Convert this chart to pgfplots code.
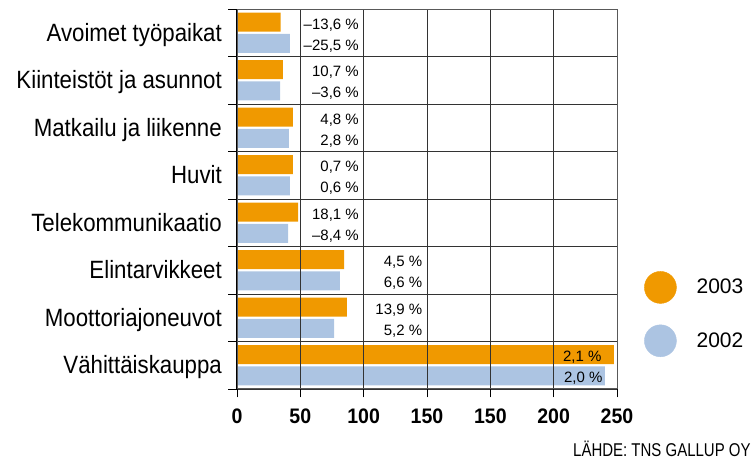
\documentclass[border=0pt]{standalone}
\usepackage{pgfplots}
\pgfplotsset{compat=1.18}
\usepackage{fontspec}
\setmainfont{Liberation Sans}[FakeStretch=0.93]
\newfontfamily\catfont{Liberation Sans}[FakeStretch=0.89]
\newfontfamily\valfont{Liberation Sans}
\newfontfamily\srcfont{Liberation Sans}[FakeStretch=0.81]
\newfontfamily\legfont{Liberation Sans}
\definecolor{orng}{RGB}{240,153,0}
\definecolor{blu}{RGB}{172,196,226}
\begin{document}
\begin{tikzpicture}[x=1pt,y=1pt]
\useasboundingbox (0,0) rectangle (752,460);
\begin{axis}[
  at={(237pt,71pt)}, anchor=south west,
  scale only axis, width=380pt, height=380pt,
  xmin=0, xmax=300, ymin=-0.5, ymax=7.5,
  clip=false,
  xtick={0,50,...,300},
  xticklabels={0,50,100,150,150,200,250},
  ytick={-0.5,0.5,...,7.5},
  yticklabels={},
  extra y ticks={0,1,2,3,4,5,6,7},
  extra y tick labels={Vähittäiskauppa,Moottoriajoneuvot,Elintarvikkeet,Telekommunikaatio,Huvit,Matkailu ja liikenne,Kiinteistöt ja asunnot,Avoimet työpaikat},
  extra y tick style={grid=none, tick style={draw=none},
    yticklabel style={font=\catfont\fontsize{25}{29}\selectfont, anchor=base east, inner sep=0pt, xshift=-6.5pt, yshift=-8.7pt}},
  xmajorgrids, ymajorgrids,
  grid style={black!80, line width=0.9pt},
  tick align=outside, xtick pos=left, ytick pos=left,
  major tick length=8.5pt,
  tick style={black, line width=0.9pt},
  axis line style={black!65, line width=1pt},
  axis on top,
  xticklabel style={font=\fontsize{21}{24}\selectfont\bfseries, anchor=base, inner sep=0pt, yshift=-25.8pt},
  /pgf/number format/assume math mode=true,
  legend style={at={(axis description cs:1.0711,0.3105)}, anchor=north west,
    draw=none, fill=none, inner sep=0pt, row sep=21pt, column sep=20pt,
    font=\legfont\fontsize{21}{24}\selectfont, nodes={inner sep=0pt}},
  legend cell align=left,
]
\addplot[xbar, bar width=19pt, bar shift=10.7pt, fill=orng, draw=none, forget plot]
  coordinates {(297.6,0) (86.8,1) (84.5,2) (48.2,3) (44.2,4) (44.2,5) (36.3,6) (34.5,7)};
\addplot[xbar, bar width=19pt, bar shift=-10.7pt, fill=blu, draw=none, forget plot]
  coordinates {(290.5,0) (76.6,1) (81.3,2) (40.3,3) (41.8,4) (41.0,5) (34.0,6) (41.8,7)};
\addlegendimage{legend image code/.code={\fill[orng] (16pt,0pt) circle (16pt);}}
\addlegendentry{2003}
\addlegendimage{legend image code/.code={\fill[blu] (16pt,0pt) circle (16pt);}}
\addlegendentry{2002}
\draw[black, line width=1.5pt] (rel axis cs:0,0) -- (rel axis cs:0,1);
\begin{scope}[every node/.style={anchor=base east, inner sep=0pt, font=\valfont\fontsize{15}{18}\selectfont}]
\node[yshift=3.45pt]  at (axis cs:96.3,7) {–13,6 \%};
\node[yshift=-17.5pt] at (axis cs:96.3,7) {–25,5 \%};
\node[yshift=3.45pt]  at (axis cs:96.3,6) {10,7 \%};
\node[yshift=-17.5pt] at (axis cs:96.3,6) {–3,6 \%};
\node[yshift=3.45pt]  at (axis cs:96.3,5) {4,8 \%};
\node[yshift=-17.5pt] at (axis cs:96.3,5) {2,8 \%};
\node[yshift=3.45pt]  at (axis cs:96.3,4) {0,7 \%};
\node[yshift=-17.5pt] at (axis cs:96.3,4) {0,6 \%};
\node[yshift=3.45pt]  at (axis cs:96.3,3) {18,1 \%};
\node[yshift=-17.5pt] at (axis cs:96.3,3) {–8,4 \%};
\node[yshift=3.45pt]  at (axis cs:146.3,2) {4,5 \%};
\node[yshift=-17.5pt] at (axis cs:146.3,2) {6,6 \%};
\node[yshift=3.45pt]  at (axis cs:146.3,1) {13,9 \%};
\node[yshift=-17.5pt] at (axis cs:146.3,1) {5,2 \%};
\node[yshift=3.45pt]  at (axis cs:287.9,0) {2,1 \%};
\node[yshift=-17.5pt] at (axis cs:288.7,0) {2,0 \%};
\end{scope}
\end{axis}
\node[anchor=base west, inner sep=0pt, font=\srcfont\fontsize{18.5}{20}\selectfont] at (573,3.3) {LÄHDE: TNS GALLUP OY};
\end{tikzpicture}
\end{document}
